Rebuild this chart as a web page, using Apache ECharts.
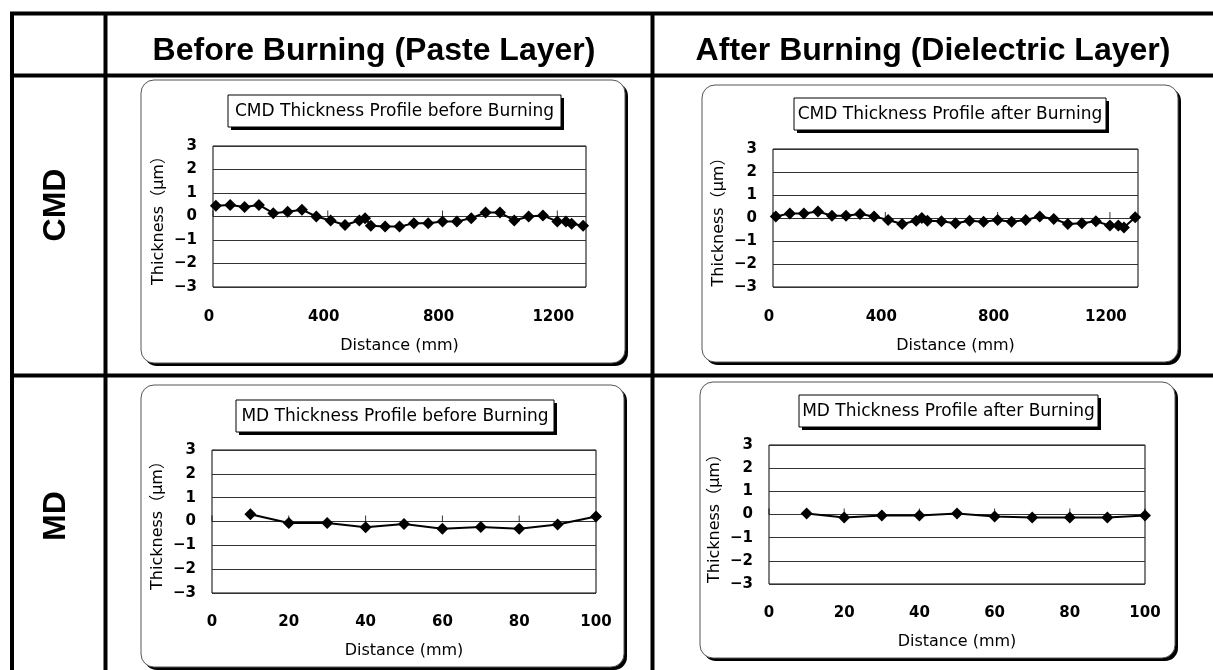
<!DOCTYPE html>
<html><head><meta charset="utf-8">
<script src="https://cdn.jsdelivr.net/npm/echarts@6/dist/echarts.min.js"></script>
<style>html,body{margin:0;padding:0;background:#fff}#c{width:1213px;height:670px}</style>
</head><body><div id="c"></div>
<script>
// ---- data ----
const cmdDistance = [10,60,110,160,210,260,310,360,410,460,510,530,550,600,650,700,750,800,850,900,950,1000,1050,1100,1150,1200,1230,1250,1290];
const cmdBefore = [0.46,0.49,0.40,0.49,0.14,0.20,0.29,0.00,-0.17,-0.36,-0.17,-0.07,-0.39,-0.43,-0.43,-0.29,-0.29,-0.21,-0.21,-0.07,0.17,0.17,-0.17,0.00,0.04,-0.21,-0.21,-0.31,-0.39];
const cmdAfter = [0.07,0.20,0.20,0.28,0.10,0.10,0.17,0.07,-0.09,-0.26,-0.12,0.00,-0.12,-0.14,-0.23,-0.12,-0.16,-0.09,-0.16,-0.09,0.07,-0.04,-0.26,-0.23,-0.14,-0.33,-0.33,-0.41,0.03];
const mdDistance = [10,20,30,40,50,60,70,80,90,100];
const mdBefore = [0.30,-0.06,-0.06,-0.24,-0.10,-0.30,-0.23,-0.30,-0.13,0.21];
const mdAfter = [0.04,-0.13,-0.04,-0.04,0.04,-0.09,-0.13,-0.13,-0.13,-0.04];
const yTickValues = [-3,-2,-1,0,1,2,3];
const yTickLabels = ['−3','−2','−1','0','1','2','3'];
const cmdXTicks = [0,400,800,1200];
const mdXTicks = [0,20,40,60,80,100];
const columnHeaders = ['Before Burning (Paste Layer)','After Burning (Dielectric Layer)'];
const rowHeaders = ['CMD','MD'];
const chartTitles = ['CMD Thickness Profile before Burning','CMD Thickness Profile after Burning','MD Thickness Profile before Burning','MD Thickness Profile after Burning'];
const xAxisName = 'Distance (mm)';
const yAxisName = 'Thickness（μm）';

// ---- layout ----
const FONT = "'DejaVu Sans', 'Noto Sans CJK JP', sans-serif";
const panels = [
  {grid:{left:213,top:146,width:373,height:141}, box:[141,80,625,363], tbox:[228,95,561,127], xMax:1300, ticks:cmdXTicks, xs:cmdDistance, ys:cmdBefore, shift:8, lm:23, ng:51},
  {grid:{left:773,top:149,width:365,height:138}, box:[702,85,1178,362], tbox:[794,98,1106,130], xMax:1300, ticks:cmdXTicks, xs:cmdDistance, ys:cmdAfter, shift:8, lm:23, ng:51},
  {grid:{left:212,top:450,width:384,height:143}, box:[141,385,624,667], tbox:[236,400,554,432], xMax:100, ticks:mdXTicks, xs:mdDistance, ys:mdBefore, shift:0, lm:22, ng:50},
  {grid:{left:769,top:445,width:376,height:139}, box:[700,382,1175,658], tbox:[799,395,1098,427], xMax:100, ticks:mdXTicks, xs:mdDistance, ys:mdAfter, shift:0, lm:22, ng:50}
];

const grids = [], xAxes = [], yAxes = [], series = [], titles = [], graphics = [];
panels.forEach((p, i) => {
  grids.push(Object.assign({show:true, borderColor:'#000', borderWidth:1, backgroundColor:'transparent'}, p.grid));
  xAxes.push({
    type:'value', gridIndex:i, min:0, max:p.xMax, position:'bottom',
    axisLine:{show:false, onZero:false}, axisTick:{show:false}, splitLine:{show:false},
    axisLabel:{customValues:p.ticks, margin:p.lm, fontSize:15, fontWeight:'bold', color:'#000', fontFamily:FONT,
      padding:[0,p.shift,0,0], formatter:v => String(v)},
    name:xAxisName, nameLocation:'middle', nameGap:p.ng,
    nameTextStyle:{fontSize:16, color:'#000', fontFamily:FONT}
  });
  yAxes.push({
    type:'value', gridIndex:i, min:-3, max:3, interval:1,
    axisLine:{show:false}, axisTick:{show:false},
    splitLine:{show:true, lineStyle:{color:'#333', width:1}},
    axisLabel:{margin:16, fontSize:15, fontWeight:'bold', color:'#000', fontFamily:FONT,
      formatter:v => yTickLabels[yTickValues.indexOf(v)]},
    name:yAxisName, nameLocation:'middle', nameGap:46, nameRotate:90,
    nameTextStyle:{fontSize:16, color:'#000', fontFamily:FONT}
  });
  // short tick marks where the category axis crosses y = 0
  series.push({
    type:'scatter', xAxisIndex:i, yAxisIndex:i,
    data:p.ticks.map(t => [t, 0]),
    symbol:'rect', symbolSize:[1,6], symbolOffset:[0,-3],
    itemStyle:{color:'#000'}, silent:true, animation:false, z:3
  });
  series.push({
    type:'line', xAxisIndex:i, yAxisIndex:i,
    data:p.xs.map((x, j) => [x, p.ys[j]]),
    symbol:'diamond', symbolSize:12, showAllSymbol:true,
    lineStyle:{color:'#000', width:2}, itemStyle:{color:'#000'},
    animation:false, z:5
  });
  const [tx0, ty0, tx1, ty1] = p.tbox;
  titles.push({
    text:chartTitles[i], left:(tx0+tx1)/2, top:(ty0+ty1)/2 + 1,
    textAlign:'center', textVerticalAlign:'middle', padding:0,
    textStyle:{fontSize:17, fontWeight:'normal', color:'#000', fontFamily:FONT}
  });
  const [bx0, by0, bx1, by1] = p.box;
  graphics.push({type:'rect', z:-2, shape:{x:bx0+3, y:by0+3, width:bx1-bx0, height:by1-by0, r:13}, style:{fill:'#000'}, silent:true});
  graphics.push({type:'rect', z:-1, shape:{x:bx0, y:by0, width:bx1-bx0, height:by1-by0, r:13}, style:{fill:'#fff', stroke:'#555', lineWidth:1}, silent:true});
  graphics.push({type:'rect', z:-1, shape:{x:tx0+3, y:ty0+3, width:tx1-tx0, height:ty1-ty0}, style:{fill:'#000'}, silent:true});
  graphics.push({type:'rect', z:-1, shape:{x:tx0, y:ty0, width:tx1-tx0, height:ty1-ty0}, style:{fill:'#fff', stroke:'#000', lineWidth:1}, silent:true});
});

// table frame
const lineStyle = {stroke:'#000', lineWidth:4};
[[10,13.5,1213,13.5],[10,75.5,1213,75.5],[10,375.5,1213,375.5],[12,12,12,670],[105.5,12,105.5,670],[652.5,12,652.5,670]]
  .forEach(l => graphics.push({type:'line', z:-3, shape:{x1:l[0],y1:l[1],x2:l[2],y2:l[3]}, style:lineStyle, silent:true}));
// headers
const HFONT = "'Liberation Sans', Arial, sans-serif";
[[374,51],[933,51]].forEach((c, k) => graphics.push({type:'text', z:1, x:c[0], y:c[1],
  style:{text:columnHeaders[k], fontSize:32, fontWeight:'bold', fontFamily:HFONT, fill:'#000', align:'center', verticalAlign:'middle'}}));
[[56,205],[56,516]].forEach((c, k) => graphics.push({type:'text', z:1, x:c[0], y:c[1], rotation:Math.PI/2,
  style:{text:rowHeaders[k], fontSize:32, fontWeight:'bold', fontFamily:HFONT, fill:'#000', align:'center', verticalAlign:'middle'}}));

const chart = echarts.init(document.getElementById('c'));
chart.setOption({
  animation:false,
  backgroundColor:'#fff',
  title:titles, grid:grids, xAxis:xAxes, yAxis:yAxes, series:series,
  graphic:{elements:graphics}
});
</script>
</body></html>
